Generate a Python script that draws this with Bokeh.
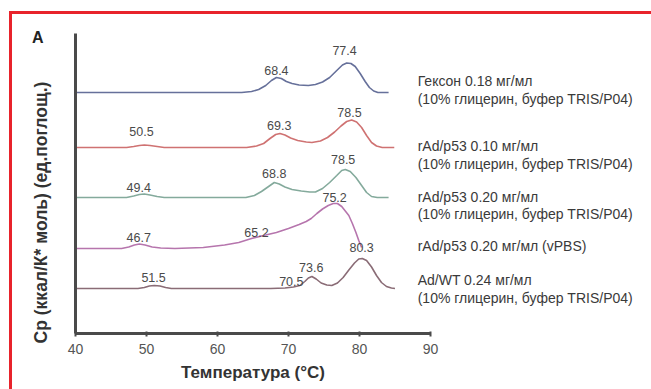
import math
from bokeh.plotting import figure
from bokeh.models import Range1d, FixedTicker
from bokeh.core.properties import value
from bokeh.embed import file_html
from bokeh.resources import INLINE

# ---- data (temperature °C, signal above each trace's baseline, arbitrary units) ----
hexon_t = [40, 63.4, 64.8, 65.8, 66.8, 67.6, 68.3, 69.0, 69.7, 70.5, 71.5, 72.8, 73.8, 74.8, 75.8, 76.8, 77.6, 78.2, 78.8, 79.4, 80.1, 80.8, 81.4, 82.0, 82.6, 84.1]
hexon_v = [0, 0, 1, 3, 7, 12, 15, 14, 11, 9, 7.5, 7, 8, 10.5, 15, 22, 27.5, 29.5, 29, 26, 19, 11, 5, 1.5, 0, 0]

p53a_t = [40, 47.2, 48.2, 49.0, 49.7, 50.5, 51.5, 52.5, 64.1, 65.5, 66.5, 67.4, 68.2, 68.8, 69.5, 70.3, 71.3, 72.5, 73.3, 74.5, 75.5, 76.5, 77.4, 78.2, 78.9, 79.6, 80.3, 81.0, 81.7, 82.4, 83.2, 84.9]
p53a_v = [0, 0, 1, 2, 2.5, 2, 1, 0, 0, 1.5, 4, 9, 13, 14, 12.5, 9.5, 7, 5.5, 5, 6.5, 10, 15.5, 21.5, 26, 27.5, 25.5, 20, 12, 5, 1.5, 0, 0]

p53b_t = [40, 47.2, 48.2, 49.0, 49.7, 50.5, 51.5, 52.5, 64.0, 65.2, 66.2, 67.2, 68.0, 68.7, 69.5, 70.5, 71.8, 73.0, 73.8, 74.8, 75.8, 76.8, 77.5, 78.0, 78.7, 79.5, 80.3, 81.0, 81.7, 82.5, 84.1]
p53b_v = [0, 0, 1.5, 3, 3.5, 2.5, 1, 0, 0, 2, 6, 11, 15, 13.5, 10.5, 8, 6.5, 5.5, 5.5, 9, 15, 22, 27, 28, 26, 20, 12, 5, 1, 0, 0]

p53c_t = [40, 46.5, 47.5, 48.3, 49.0, 49.8, 50.8, 52.0, 54.0, 58.0, 61.0, 63.0, 64.8, 66.5, 68.3, 70.0, 71.5, 72.5, 73.2, 74.0, 74.8, 75.6, 76.3, 76.9, 77.5, 78.0, 78.5, 79.0, 79.5, 79.9, 80.3]
p53c_v = [0, 0, 1.5, 3.5, 4.5, 3.5, 1.5, 0.5, 0, 1, 3.5, 6, 10, 13, 16, 20, 24, 27, 30, 35, 39.5, 43, 45, 45, 42, 37.5, 33, 25, 16, 8, 1]

adwt_t = [40, 48.8, 49.7, 50.4, 51.1, 51.9, 52.7, 53.5, 67.5, 69.5, 70.7, 71.6, 72.3, 72.8, 73.3, 73.9, 74.6, 75.4, 76.1, 76.9, 77.7, 78.5, 79.3, 79.9, 80.4, 81.0, 81.7, 82.4, 83.1, 83.8, 84.5, 85.0]
adwt_v = [0, 0, 1, 2.5, 3, 2.5, 1, 0, 0, 0.5, 1.5, 3, 7, 10.5, 12, 9.5, 5.5, 3.5, 3, 5.5, 11, 18.5, 25.5, 29.5, 30, 28, 21.5, 13, 6, 2, 0.5, 0]

baselines = [241, 186, 136, 85, 45]
colors = ["#66709a", "#cf7272", "#84aa9c", "#b675ad", "#8a6c76"]

peak_text = ["77.4", "68.4", "50.5", "69.3", "78.5", "49.4", "68.8", "78.5",
             "75.2", "46.7", "65.2", "80.3", "73.6", "70.5", "51.5"]
peak_t = [77.9, 68.3, 49.3, 68.7, 78.6, 48.9, 68.0, 77.7, 76.5, 48.9, 65.5, 80.3, 73.2, 70.4, 51.0]
peak_y = [283, 263, 202, 208, 221, 146, 160, 174, 136, 96, 101, 86, 66, 52, 56]

legend_text = ["Гексон 0.18 мг/мл", "(10% глицерин, буфер TRIS/P04)",
               "rAd/p53 0.10 мг/мл", "(10% глицерин, буфер TRIS/P04)",
               "rAd/p53 0.20 мг/мл", "(10% глицерин, буфер TRIS/P04)",
               "rAd/p53 0.20 мг/мл (vPBS)",
               "Ad/WT 0.24 мг/мл", "(10% глицерин, буфер TRIS/P04)"]
legend_y = [253, 235, 188, 170, 137, 120, 88, 54, 36]
legend_t = 88.2

x_ticks = [40, 50, 60, 70, 80, 90]
x_title = "Температура (°C)"
y_title = "Cp (ккал/К* моль) (ед.поглощ.)"
panel_tag = "A"

# ---- figure ----
red = "#e8232b"
p = figure(width=651, height=389, output_backend="svg", toolbar_location=None,
           x_range=Range1d(29.44, 121.13), y_range=Range1d(-56, 333),
           min_border_left=0, min_border_right=0, min_border_top=0, min_border_bottom=0)
p.background_fill_color = None
p.border_fill_color = None
p.outline_line_color = None
p.grid.visible = False
p.styles = {
    "background": (f"linear-gradient({red},{red}) 9px 11px / 642px 3px no-repeat, "
                   f"linear-gradient({red},{red}) 9px 11px / 3px 378px no-repeat")
}

series = [(hexon_t, hexon_v), (p53a_t, p53a_v), (p53b_t, p53b_v), (p53c_t, p53c_v), (adwt_t, adwt_v)]
for (ts, vs), base, col in zip(series, baselines, colors):
    p.line(ts, [base + v for v in vs], line_color=col, line_width=1.6)

p.text(x=peak_t, y=peak_y, text=peak_text, text_font=value("Liberation Sans"),
       text_font_size="12.5px", text_color="#4a4a4a", text_align="center", text_baseline="middle")
p.text(x=[legend_t] * len(legend_text), y=legend_y, text=legend_text,
       text_font=value("Liberation Sans"), text_font_size="14px", text_color="#3a3a3a",
       text_align="left", text_baseline="middle")

# y-axis title and panel tag, placed left of the y axis
p.text(x=[35.1], y=[121], text=[y_title], angle=math.pi / 2, text_font=value("Liberation Sans"),
       text_font_style="bold", text_font_size="17.5px", text_color="#333333",
       text_align="center", text_baseline="middle")
p.text(x=[34.7], y=[296], text=[panel_tag], text_font=value("Liberation Sans"),
       text_font_style="bold", text_font_size="16px", text_color="#222222",
       text_align="center", text_baseline="middle")

xa = p.xaxis[0]
xa.fixed_location = 0
xa.bounds = (40, 90)
xa.ticker = FixedTicker(ticks=x_ticks)
xa.axis_line_color = "#4a4a4a"
xa.axis_line_width = 3
xa.major_tick_line_color = "#4a4a4a"
xa.major_tick_line_width = 2
xa.major_tick_in = 2
xa.major_tick_out = 3
xa.minor_tick_line_color = None
xa.major_label_text_font = "Liberation Sans"
xa.major_label_text_font_size = "14px"
xa.major_label_text_color = "#555555"
xa.major_label_standoff = 7
xa.axis_label = x_title
xa.axis_label_text_font = "Liberation Sans"
xa.axis_label_text_font_style = "bold"
xa.axis_label_text_font_size = "17px"
xa.axis_label_text_color = "#333333"
xa.axis_label_standoff = 6

ya = p.yaxis[0]
ya.fixed_location = 40
ya.bounds = (0, 300)
ya.ticker = FixedTicker(ticks=[])
ya.axis_line_color = "#4a4a4a"
ya.axis_line_width = 3
ya.major_tick_line_color = None
ya.minor_tick_line_color = None
ya.major_tick_out = 0
ya.major_tick_in = 0

open("out.html", "w").write(file_html(p, INLINE))
